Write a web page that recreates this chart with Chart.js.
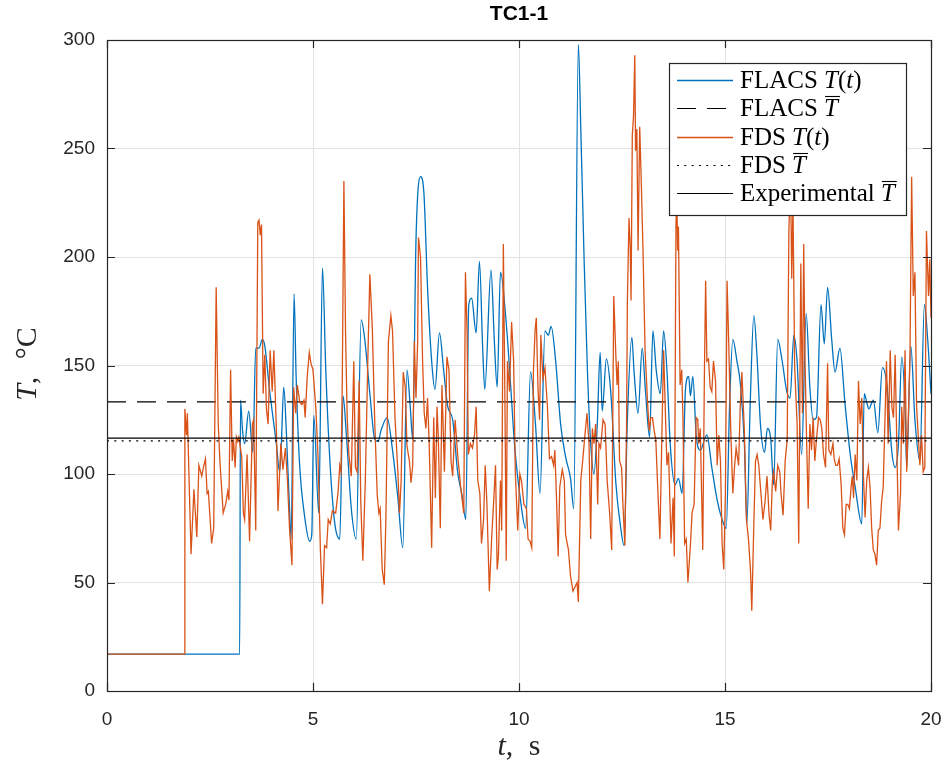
<!DOCTYPE html>
<html>
<head>
<meta charset="utf-8">
<script src="https://cdn.jsdelivr.net/npm/chart.js@4.4.1/dist/chart.umd.min.js"></script>
<style>
  html, body { margin: 0; padding: 0; background: #fff; }
  #wrap { width: 948px; height: 769px; position: relative; }
</style>
</head>
<body>
<div id="wrap"><canvas id="chart"></canvas></div>
<script>
// thermocouple TC1-1, time in s, temperature in degC
const flacsTime = [0, 3.22, 3.24, 3.29, 3.34, 3.44, 3.54, 3.61, 3.69, 3.77, 3.83, 3.95, 4.11, 4.19, 4.23, 4.29, 4.35, 4.43, 4.47, 4.54,
  4.59, 4.67, 4.80, 4.92, 4.97, 5.02, 5.14, 5.23, 5.31, 5.41, 5.53, 5.65, 5.73, 5.81, 5.93, 6.05, 6.17, 6.25, 6.38, 6.50,
  6.58, 6.65, 6.80, 6.93, 7.06, 7.18, 7.28, 7.36, 7.42, 7.50, 7.61, 7.69, 7.78, 7.88, 7.96, 8.07, 8.17, 8.27, 8.39, 8.51,
  8.61, 8.71, 8.78, 8.85, 8.96, 9.04, 9.12, 9.17, 9.32, 9.40, 9.47, 9.55, 9.68, 9.80, 9.89, 10.05, 10.16, 10.28, 10.40, 10.51,
  10.63, 10.71, 10.78, 10.89, 11.01, 11.13, 11.25, 11.33, 11.44, 11.50, 11.58, 11.66, 11.74, 11.82, 11.90, 11.97, 12.02, 12.12, 12.23, 12.35,
  12.47, 12.55, 12.63, 12.74, 12.79, 12.89, 12.99, 13.07, 13.17, 13.25, 13.33, 13.43, 13.51, 13.59, 13.67, 13.79, 13.87, 13.96, 14.04, 14.12,
  14.16, 14.22, 14.30, 14.40, 14.56, 14.68, 14.81, 14.93, 15.03, 15.11, 15.19, 15.29, 15.37, 15.47, 15.53, 15.61, 15.70, 15.78, 15.86, 15.96,
  16.03, 16.11, 16.18, 16.28, 16.38, 16.50, 16.58, 16.67, 16.75, 16.86, 16.97, 17.06, 17.14, 17.22, 17.33, 17.41, 17.49, 17.59, 17.67, 17.79,
  17.91, 18.04, 18.16, 18.32, 18.38, 18.44, 18.49, 18.60, 18.71, 18.82, 18.93, 19.05, 19.13, 19.21, 19.29, 19.37, 19.41, 19.51, 19.61, 19.73,
  19.84, 19.92, 20.0];
const flacsTemp = [17, 17, 134, 120, 114, 129, 110, 158, 158, 162, 159, 138, 114, 101, 113, 140, 121, 84, 70, 183,
  145, 106, 80, 69, 72, 127, 82, 195, 148, 106, 77, 70, 136, 118, 84, 70, 171, 163, 137, 116,
  115, 120, 126, 111, 89, 66, 148, 131, 116, 208, 237, 230, 186, 152, 139, 165, 148, 131, 125, 101,
  91, 79, 178, 181, 165, 198, 157, 139, 194, 162, 140, 193, 172, 140, 114, 86, 75, 147, 123, 91,
  166, 164, 168, 152, 123, 108, 98, 84, 298, 259, 199, 148, 114, 100, 123, 156, 129, 153, 137, 96,
  75, 67, 125, 163, 148, 128, 158, 138, 117, 166, 148, 137, 166, 148, 114, 95, 98, 91, 139, 145,
  136, 145, 118, 111, 118, 103, 88, 79, 75, 131, 162, 152, 142, 114, 77, 131, 173, 153, 123, 110,
  121, 116, 95, 162, 153, 138, 135, 164, 152, 109, 174, 140, 125, 126, 178, 160, 186, 162, 147, 158,
  133, 109, 94, 77, 137, 133, 130, 134, 119, 149, 141, 110, 103, 114, 154, 131, 103, 159, 125, 106,
  178, 162, 137];

const fdsTime = [0, 1.87, 1.89, 1.93, 1.95, 2.04, 2.11, 2.18, 2.23, 2.30, 2.34, 2.39, 2.43, 2.46, 2.54, 2.59, 2.65, 2.70, 2.74, 2.82,
  2.88, 2.93, 2.96, 3.00, 3.04, 3.07, 3.11, 3.14, 3.17, 3.20, 3.27, 3.31, 3.34, 3.40, 3.46, 3.53, 3.56, 3.61, 3.66, 3.69,
  3.72, 3.75, 3.79, 3.83, 3.87, 3.91, 3.96, 4.01, 4.05, 4.11, 4.15, 4.22, 4.27, 4.33, 4.38, 4.43, 4.49, 4.53, 4.58, 4.62,
  4.68, 4.73, 4.78, 4.81, 4.86, 4.91, 4.95, 5.00, 5.07, 5.12, 5.18, 5.23, 5.28, 5.33, 5.37, 5.42, 5.47, 5.55, 5.61, 5.65,
  5.68, 5.71, 5.75, 5.79, 5.83, 5.87, 5.93, 5.99, 6.03, 6.07, 6.12, 6.16, 6.21, 6.27, 6.33, 6.38, 6.44, 6.50, 6.56, 6.60,
  6.63, 6.68, 6.73, 6.77, 6.83, 6.89, 6.93, 6.99, 7.06, 7.10, 7.14, 7.19, 7.24, 7.28, 7.34, 7.38, 7.42, 7.46, 7.50, 7.54,
  7.56, 7.61, 7.66, 7.70, 7.74, 7.78, 7.82, 7.88, 7.93, 7.97, 8.01, 8.04, 8.09, 8.13, 8.19, 8.25, 8.30, 8.35, 8.39, 8.45,
  8.51, 8.59, 8.66, 8.70, 8.74, 8.77, 8.82, 8.87, 8.92, 8.96, 9.00, 9.05, 9.09, 9.14, 9.18, 9.22, 9.28, 9.34, 9.39, 9.43,
  9.47, 9.50, 9.55, 9.58, 9.62, 9.66, 9.69, 9.72, 9.77, 9.82, 9.87, 9.91, 9.97, 10.02, 10.06, 10.12, 10.18, 10.22, 10.27, 10.31,
  10.35, 10.39, 10.42, 10.46, 10.50, 10.53, 10.58, 10.63, 10.69, 10.74, 10.79, 10.84, 10.87, 10.91, 10.95, 10.99, 11.05, 11.10, 11.13, 11.20,
  11.25, 11.31, 11.36, 11.41, 11.44, 11.50, 11.55, 11.60, 11.65, 11.70, 11.74, 11.78, 11.82, 11.86, 11.91, 11.94, 11.98, 12.04, 12.09, 12.14,
  12.20, 12.25, 12.30, 12.35, 12.38, 12.41, 12.44, 12.49, 12.52, 12.57, 12.61, 12.63, 12.67, 12.70, 12.72, 12.75, 12.78, 12.81, 12.83, 12.86,
  12.89, 12.93, 12.97, 13.01, 13.06, 13.12, 13.16, 13.20, 13.24, 13.28, 13.32, 13.36, 13.42, 13.47, 13.51, 13.59, 13.63, 13.69, 13.74, 13.77,
  13.81, 13.83, 13.85, 13.87, 13.91, 13.95, 13.98, 14.02, 14.06, 14.10, 14.16, 14.20, 14.25, 14.30, 14.34, 14.36, 14.40, 14.46, 14.50, 14.53,
  14.56, 14.60, 14.64, 14.68, 14.72, 14.77, 14.81, 14.85, 14.89, 14.93, 14.97, 15.01, 15.05, 15.09, 15.14, 15.19, 15.23, 15.27, 15.33, 15.37,
  15.41, 15.47, 15.52, 15.57, 15.62, 15.65, 15.70, 15.74, 15.78, 15.82, 15.86, 15.92, 15.97, 16.02, 16.07, 16.11, 16.15, 16.18, 16.23, 16.28,
  16.33, 16.36, 16.41, 16.46, 16.51, 16.55, 16.59, 16.62, 16.65, 16.69, 16.75, 16.79, 16.84, 16.88, 16.91, 16.94, 16.98, 17.02, 17.06, 17.10,
  17.14, 17.18, 17.22, 17.27, 17.31, 17.35, 17.39, 17.44, 17.49, 17.52, 17.57, 17.62, 17.65, 17.69, 17.73, 17.77, 17.82, 17.86, 17.90, 17.94,
  17.98, 18.02, 18.06, 18.09, 18.12, 18.16, 18.20, 18.24, 18.28, 18.32, 18.36, 18.40, 18.44, 18.48, 18.52, 18.56, 18.60, 18.64, 18.68, 18.72,
  18.76, 18.80, 18.84, 18.88, 18.92, 18.96, 19.01, 19.05, 19.09, 19.13, 19.17, 19.21, 19.26, 19.29, 19.33, 19.37, 19.41, 19.45, 19.49, 19.53,
  19.57, 19.61, 19.65, 19.69, 19.73, 19.77, 19.81, 19.85, 19.89, 19.94, 19.97, 20.0];
const fdsTemp = [17, 17, 130, 118, 128, 63, 93, 71, 104, 99, 103, 107, 91, 92, 68, 75, 186, 123, 106, 82,
  86, 92, 88, 148, 106, 116, 103, 117, 115, 117, 108, 82, 79, 109, 69, 123, 125, 74, 216, 217,
  210, 215, 137, 155, 130, 123, 157, 138, 157, 121, 83, 114, 102, 112, 97, 75, 58, 140, 128, 141,
  133, 132, 134, 126, 145, 156, 151, 148, 130, 109, 65, 40, 67, 66, 79, 77, 83, 82, 92, 104,
  101, 141, 235, 165, 126, 109, 99, 152, 103, 101, 143, 87, 60, 97, 152, 192, 167, 123, 90, 82,
  84, 56, 49, 80, 161, 173, 166, 126, 101, 82, 97, 147, 140, 113, 106, 96, 104, 161, 135, 161,
  209, 200, 152, 128, 121, 135, 114, 66, 126, 89, 131, 118, 75, 141, 101, 154, 148, 106, 99, 125,
  109, 93, 82, 193, 165, 109, 114, 112, 118, 131, 97, 91, 68, 79, 104, 87, 46, 72, 89, 104,
  56, 62, 97, 74, 206, 131, 60, 152, 138, 170, 152, 101, 74, 100, 97, 86, 84, 70, 69, 66,
  147, 166, 172, 140, 125, 164, 144, 149, 131, 107, 108, 104, 111, 89, 62, 94, 102, 97, 72, 65,
  53, 46, 48, 50, 41, 97, 107, 118, 128, 114, 70, 121, 114, 123, 86, 114, 112, 125, 123, 97,
  82, 65, 182, 155, 141, 152, 106, 103, 87, 67, 121, 179, 218, 204, 180, 256, 265, 293, 249, 259,
  203, 260, 233, 203, 157, 133, 120, 126, 126, 120, 116, 97, 70, 120, 157, 104, 110, 68, 89, 62,
  215, 230, 203, 214, 141, 148, 125, 68, 70, 50, 67, 82, 86, 126, 125, 114, 121, 65, 146, 189,
  152, 153, 140, 138, 152, 143, 104, 118, 106, 68, 56, 91, 189, 161, 120, 91, 103, 112, 104, 131,
  147, 120, 79, 70, 55, 37, 77, 106, 109, 104, 94, 79, 87, 99, 81, 74, 97, 101, 92, 104,
  101, 91, 81, 106, 116, 212, 238, 190, 225, 150, 123, 68, 197, 128, 206, 155, 116, 84, 123, 111,
  126, 106, 116, 126, 125, 121, 109, 103, 151, 111, 109, 114, 107, 104, 104, 107, 95, 75, 72, 86,
  86, 84, 94, 99, 89, 109, 97, 143, 123, 135, 99, 80, 97, 103, 94, 75, 65, 63, 58, 74,
  75, 87, 94, 123, 152, 114, 157, 131, 126, 155, 114, 74, 91, 131, 114, 157, 101, 126, 155, 237,
  182, 193, 131, 118, 104, 118, 101, 103, 212, 182, 199, 172];

// time-averaged temperatures
const flacsMean = 133.2;
const fdsMean = 115.3;
const expMean = 116.5;

const xTicks = [0, 5, 10, 15, 20];
const yTicks = [0, 50, 100, 150, 200, 250, 300];

const BLUE = '#0072BD';
const ORANGE = '#D95319';
const AXIS = '#262626';
const serif = "'Liberation Serif', 'DejaVu Serif', serif";
const sans = "'Liberation Sans', Arial, sans-serif";

function toPoints(xs, ys) {
    return xs.map((x, i) => ({ x: x, y: ys[i] }));
}
function flat(v) {
    return [{ x: xTicks[0], y: v }, { x: xTicks[xTicks.length - 1], y: v }];
}

// text pieces for the mixed roman / italic labels
function rm(text, size) { return { text: text, font: size + 'px ' + serif, size: size }; }
function it(text, size) { return { text: text, font: 'italic ' + size + 'px ' + serif, size: size }; }
function bar(text, size) { return { text: text, font: 'italic ' + size + 'px ' + serif, size: size, bar: true }; }

function richWidth(ctx, parts) {
    let w = 0;
    parts.forEach(p => { ctx.font = p.font; w += ctx.measureText(p.text).width + (p.gap || 0); });
    return w;
}
function drawRich(ctx, parts, x, y) {
    let cx = x;
    parts.forEach(p => {
        ctx.font = p.font;
        ctx.fillText(p.text, cx, y);
        const w = ctx.measureText(p.text).width;
        if (p.bar) {
            const by = Math.round(y - p.size * 0.8) + 0.5;
            ctx.beginPath();
            ctx.lineWidth = 1.1;
            ctx.moveTo(cx + 1, by);
            ctx.lineTo(cx + w + 2, by);
            ctx.stroke();
        }
        cx += w + (p.gap || 0);
    });
}

const LS = 25;
const legendRows = [
    { ds: 0, parts: [rm('FLACS ', LS), it('T', LS), rm('(', LS), it('t', LS), rm(')', LS)] },
    { ds: 1, parts: [rm('FLACS ', LS), bar('T', LS)] },
    { ds: 2, parts: [rm('FDS ', LS), it('T', LS), rm('(', LS), it('t', LS), rm(')', LS)] },
    { ds: 3, parts: [rm('FDS ', LS), bar('T', LS)] },
    { ds: 4, parts: [rm('Experimental ', LS), bar('T', LS)] }
];

// box, inward ticks, titles and legend drawn on top of the plot
const framePlugin = {
    id: 'frame',
    afterDraw(chart) {
        const ctx = chart.ctx;
        const a = chart.chartArea;
        const xs = chart.scales.x, ys = chart.scales.y;
        const tick = 8;
        ctx.save();
        ctx.strokeStyle = AXIS;
        ctx.lineWidth = 1.2;
        ctx.beginPath();
        xTicks.forEach(v => {
            const px = Math.round(xs.getPixelForValue(v)) + 0.5;
            ctx.moveTo(px, a.bottom); ctx.lineTo(px, a.bottom - tick);
            ctx.moveTo(px, a.top); ctx.lineTo(px, a.top + tick);
        });
        yTicks.forEach(v => {
            const py = Math.round(ys.getPixelForValue(v)) + 0.5;
            ctx.moveTo(a.left, py); ctx.lineTo(a.left + tick, py);
            ctx.moveTo(a.right, py); ctx.lineTo(a.right - tick, py);
        });
        ctx.stroke();
        ctx.strokeRect(Math.round(a.left) + 0.5, Math.round(a.top) + 0.5,
            Math.round(a.right - a.left), Math.round(a.bottom - a.top));

        // title
        ctx.fillStyle = '#000';
        ctx.font = 'bold 21px ' + sans;
        ctx.textAlign = 'center';
        ctx.textBaseline = 'middle';
        ctx.fillText('TC1-1', (a.left + a.right) / 2, 14);

        // axis titles
        ctx.textAlign = 'left';
        ctx.textBaseline = 'alphabetic';
        ctx.fillStyle = AXIS;
        ctx.strokeStyle = AXIS;
        const xl = [it('t', 30), rm(',', 30), rm(' s', 30)];
        xl[1].gap = 8;
        const xw = richWidth(ctx, xl);
        drawRich(ctx, xl, (a.left + a.right) / 2 - xw / 2, 755);

        const yl = [it('T', 30), rm(',', 30), rm(' \u00B0C', 30)];
        yl[1].gap = 10;
        const yw = richWidth(ctx, yl);
        ctx.save();
        ctx.translate(36, 364);
        ctx.rotate(-Math.PI / 2);
        drawRich(ctx, yl, -yw / 2, 0);
        ctx.restore();

        // legend
        const box = { left: 669, top: 63, right: 906, bottom: 215 };
        ctx.fillStyle = '#fff';
        ctx.fillRect(box.left, box.top, box.right - box.left, box.bottom - box.top);
        ctx.strokeStyle = AXIS;
        ctx.lineWidth = 1.2;
        ctx.strokeRect(box.left + 0.5, box.top + 0.5, box.right - box.left, box.bottom - box.top);
        legendRows.forEach((row, i) => {
            const ds = chart.data.datasets[row.ds];
            const cy = 80 + i * 28.3;
            ctx.save();
            ctx.strokeStyle = ds.borderColor;
            ctx.lineWidth = ds.borderWidth;
            ctx.setLineDash(ds.borderDash || []);
            ctx.beginPath();
            ctx.moveTo(677, Math.round(cy) + 0.5);
            ctx.lineTo(733, Math.round(cy) + 0.5);
            ctx.stroke();
            ctx.restore();
            ctx.fillStyle = '#000';
            ctx.strokeStyle = '#000';
            drawRich(ctx, row.parts, 740, cy + 8);
        });
        ctx.restore();
    }
};

new Chart(document.getElementById('chart'), {
    type: 'line',
    data: {
        datasets: [
            { label: 'FLACS T(t)', data: toPoints(flacsTime, flacsTemp), borderColor: BLUE, borderWidth: 1.3,
              cubicInterpolationMode: 'monotone', order: 5 },
            { label: 'FLACS mean T', data: flat(flacsMean), borderColor: '#000', borderWidth: 1.2,
              borderDash: [19, 11], order: 4 },
            { label: 'FDS T(t)', data: toPoints(fdsTime, fdsTemp), borderColor: ORANGE, borderWidth: 1.3, order: 3 },
            { label: 'FDS mean T', data: flat(fdsMean), borderColor: '#000', borderWidth: 1.2,
              borderDash: [2, 5.3], order: 2 },
            { label: 'Experimental mean T', data: flat(expMean), borderColor: '#000', borderWidth: 1.2, order: 1 }
        ]
    },
    options: {
        responsive: true,
        maintainAspectRatio: false,
        animation: false,
        elements: { point: { radius: 0 }, line: { tension: 0 } },
        layout: { padding: { top: 40, right: 17, left: 0, bottom: 0 } },
        plugins: {
            legend: { display: false },
            title: { display: false },
            tooltip: { enabled: false }
        },
        scales: {
            x: {
                type: 'linear',
                min: 0, max: 20,
                // fixed band under the plot; end labels may overhang the sides
                afterFit(scale) {
                    scale.height = 78;
                    scale.paddingLeft = 0;
                    scale.paddingRight = 0;
                },
                afterBuildTicks(scale) { scale.ticks = xTicks.map(v => ({ value: v })); },
                ticks: { padding: 17, color: AXIS, font: { family: sans, size: 19 }, maxRotation: 0 },
                grid: { color: '#e2e2e2', lineWidth: 1, drawTicks: false },
                border: { display: false }
            },
            y: {
                type: 'linear',
                min: 0, max: 300,
                afterFit(scale) { scale.width = 107; },
                afterBuildTicks(scale) { scale.ticks = yTicks.map(v => ({ value: v })); },
                ticks: { padding: 12, color: AXIS, font: { family: sans, size: 19 } },
                grid: { color: '#e2e2e2', lineWidth: 1, drawTicks: false },
                border: { display: false }
            }
        }
    },
    plugins: [framePlugin]
});
</script>
</body>
</html>
